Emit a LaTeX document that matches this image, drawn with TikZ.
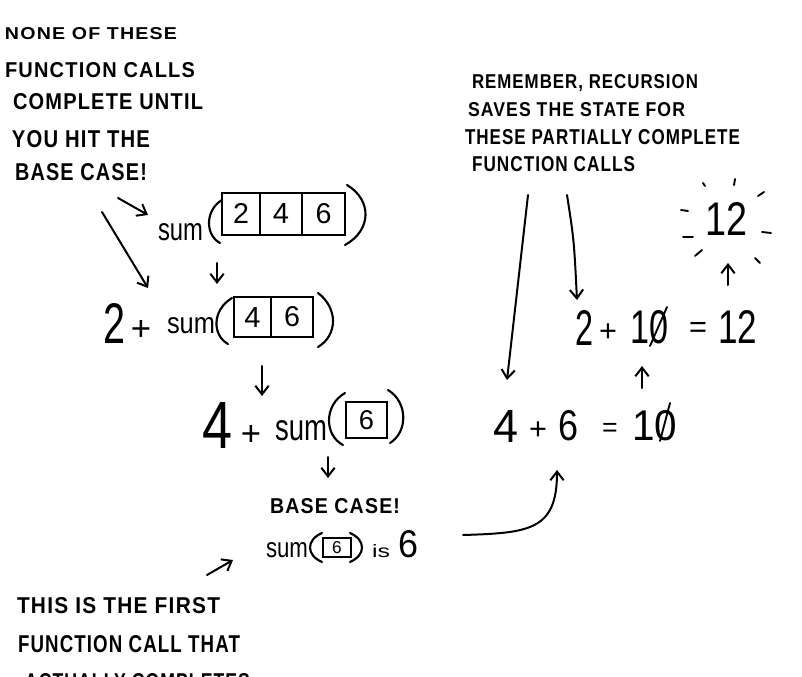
\documentclass[tikz,border=0pt]{standalone}
\usepackage{fontspec}
\setmainfont{Liberation Sans}
\newfontfamily\hand[LetterSpace=6]{Liberation Sans}
\usepackage{graphicx}
\usetikzlibrary{arrows.meta}
\newlength\pxu
\setlength\pxu{0.75pt}
\newcommand\fitt[3]{\resizebox{#1\pxu}{#2\pxu}{#3}}
\newcommand\dg[2]{\resizebox{!}{#1\pxu}{#2}}
\begin{document}
\begin{tikzpicture}[x=0.75pt,y=-0.75pt,
  txt/.style={inner sep=0,outer sep=0,anchor=base west,font=\hand\bfseries},
  mth/.style={inner sep=0,outer sep=0,anchor=base west},
  op/.style={inner sep=0,outer sep=0,anchor=base,font=\fontsize{#1}{#1}\selectfont},
  cell/.style={draw,line width=1.5pt,inner sep=0,outer sep=0},
  arr/.style={-{Straight Barb[length=6.5pt,width=10pt]},line width=1.5pt,line cap=round,line join=round},
  ray/.style={line width=1.4pt,line cap=round},
  paren/.style={line width=1.6pt,line cap=round},
  slash/.style={line width=1.4pt,line cap=round}]
\useasboundingbox (0,0) rectangle (802,677);
\clip (0,0) rectangle (802,677);
\fill[white] (0,0) rectangle (802,677);

% ---------- left caption
\node[txt] (l1) at (5,40)  {\fitt{172}{12}{NONE OF THESE}};
\node[txt] (l2) at (5,78)  {\fitt{190}{15}{FUNCTION CALLS}};
\node[txt] (l3) at (13,110) {\fitt{190}{16}{COMPLETE UNTIL}};
\node[txt] (l4) at (12,148) {\fitt{138}{17}{YOU HIT THE}};
\node[txt] (l5) at (15,181) {\fitt{132}{17}{BASE CASE!}};

% ---------- right caption
\node[txt] (r1) at (472,89)  {\fitt{226}{14}{REMEMBER, RECURSION}};
\node[txt] (r2) at (468,117) {\fitt{217}{14}{SAVES THE STATE FOR}};
\node[txt] (r3) at (465,145) {\fitt{275}{15}{THESE PARTIALLY COMPLETE}};
\node[txt] (r4) at (472,172) {\fitt{163}{15}{FUNCTION CALLS}};

% ---------- bottom caption (last line cut by the page edge, as in the reference)
\node[txt] (b1) at (17,613) {\fitt{203}{16}{THIS IS THE FIRST}};
\node[txt] (b2) at (18,652) {\fitt{222}{17}{FUNCTION CALL THAT}};
\node[txt] (b3) at (25,689) {\fitt{225}{16}{ACTUALLY COMPLETES}};

% ---------- row 1: sum([2|4|6])
\node[mth] (s1) at (158,240) {\fitt{45}{17}{sum}};
\node[cell,minimum width=38\pxu,minimum height=42\pxu] (c11) at (241,214) {\dg{20}{2}};
\node[cell,minimum width=42\pxu,minimum height=42\pxu] (c12) at (281,214) {\dg{20}{4}};
\node[cell,minimum width=43\pxu,minimum height=42\pxu] (c13) at (323.5,214) {\dg{20}{6}};
\draw[paren] (222,200) .. controls (205,210) and (205,235) .. (220,243);
\draw[paren] (347,185) .. controls (372,200) and (372,230) .. (345,245);

% ---------- row 2: 2 + sum([4|6])
\node[mth] (n2) at (103,343) {\fitt{22}{40}{2}};
\node[op=26] (p2) at (141,340) {+};
\node[mth] (s2) at (167,333) {\fitt{48}{16}{sum}};
\node[cell,minimum width=37\pxu,minimum height=40\pxu] (c21) at (252.5,317) {\dg{20}{4}};
\node[cell,minimum width=42\pxu,minimum height=40\pxu] (c22) at (292,317) {\dg{20}{6}};
\draw[paren] (232,298) .. controls (212,310) and (212,335) .. (228,344);
\draw[paren] (318,293) .. controls (338,308) and (338,335) .. (318,347);

% ---------- row 3: 4 + sum([6])
\node[mth] (n3) at (202,448) {\fitt{30}{46}{4}};
\node[op=26] (p3) at (251,445) {+};
\node[mth] (s3) at (275,440) {\fitt{52}{20}{sum}};
\node[cell,minimum width=41\pxu,minimum height=36\pxu] (c31) at (366.5,420) {\dg{19}{6}};
\draw[paren] (345,393) .. controls (324,405) and (324,435) .. (343,445);
\draw[paren] (388,390) .. controls (408,402) and (408,432) .. (390,443);

% ---------- base case
\node[txt] (bc) at (270,513) {\fitt{130}{15}{BASE CASE!}};
\node[mth] (s4) at (266,557) {\fitt{42}{15}{sum}};
\node[cell,minimum width=28\pxu,minimum height=19\pxu] (c41) at (337,547.5) {\dg{12}{6}};
\draw[paren] (322,533) .. controls (306,540) and (306,555) .. (322,562);
\draw[paren] (350,533) .. controls (366,540) and (366,555) .. (350,562);
\node[mth] (is) at (372,557) {\fitt{18}{13}{is}};
\node[mth] (six) at (398,557) {\fitt{20}{27}{6}};

% ---------- right: 4 + 6 = 10
\node[mth] (q4) at (493,442) {\fitt{25}{32}{4}};
\node[op=23] (qp) at (538,439) {+};
\node[mth] (q6) at (558,440) {\fitt{20}{30}{6}};
\node[op=20] (qe) at (610,436) {=};
\node[mth] (q10) at (632,440) {\fitt{45}{30}{10}};
\draw[slash] (670,403) -- (660,441);

% ---------- right: 2 + 10 = 12
\node[mth] (t2) at (575,345) {\fitt{18}{35}{2}};
\node[op=23] (tp) at (608,341) {+};
\node[mth] (t10) at (630,343) {\fitt{38}{33}{10}};
\draw[slash] (667,307) -- (650,346);
\node[op=23] (te) at (698,337) {=};
\node[mth] (t12) at (718,343) {\fitt{39}{33}{12}};

% ---------- final 12 with rays
\node[mth] (f12) at (705,235) {\fitt{42}{33}{12}};
\draw[ray] (703,183) -- (705,186);
\draw[ray] (735,179) -- (734,185);
\draw[ray] (758,196) -- (764,192);
\draw[ray] (681,210) -- (688,211);
\draw[ray] (683,237) -- (693,237);
\draw[ray] (762,232) -- (771,233);
\draw[ray] (695,256) -- (702,250);
\draw[ray] (755,258) -- (760,263);

% ---------- arrows
\coordinate (a1s) at (118,198); \coordinate (a1e) at (148,215);
\coordinate (a2s) at (102,212); \coordinate (a2e) at (148,288);
\coordinate (a3s) at (217,263); \coordinate (a3e) at (217,284);
\coordinate (a4s) at (262,366); \coordinate (a4e) at (262,396);
\coordinate (a5s) at (328,457); \coordinate (a5e) at (328,478);
\coordinate (a6s) at (207,575); \coordinate (a6e) at (233,560);
\coordinate (a7s) at (463,535); \coordinate (a7e) at (557,470);
\coordinate (a8s) at (528,195); \coordinate (a8e) at (507,380);
\coordinate (a9s) at (567,195); \coordinate (a9e) at (577,300);
\coordinate (a10s) at (642,388); \coordinate (a10e) at (642,366);
\coordinate (a11s) at (728,285); \coordinate (a11e) at (728,263);

\draw[arr] (a1s) -- (a1e);
\draw[arr] (a2s) -- (a2e);
\draw[arr] (a3s) -- (a3e);
\draw[arr] (a4s) -- (a4e);
\draw[arr] (a5s) -- (a5e);
\draw[arr] (a6s) -- (a6e);
\draw[arr] (a7s) .. controls (530,533) and (557,530) .. (a7e);
\draw[arr] (a8s) -- (a8e);
\draw[arr] (a9s) .. controls (574,240) .. (a9e);
\draw[arr] (a10s) -- (a10e);
\draw[arr] (a11s) -- (a11e);
\end{tikzpicture}
\end{document}
